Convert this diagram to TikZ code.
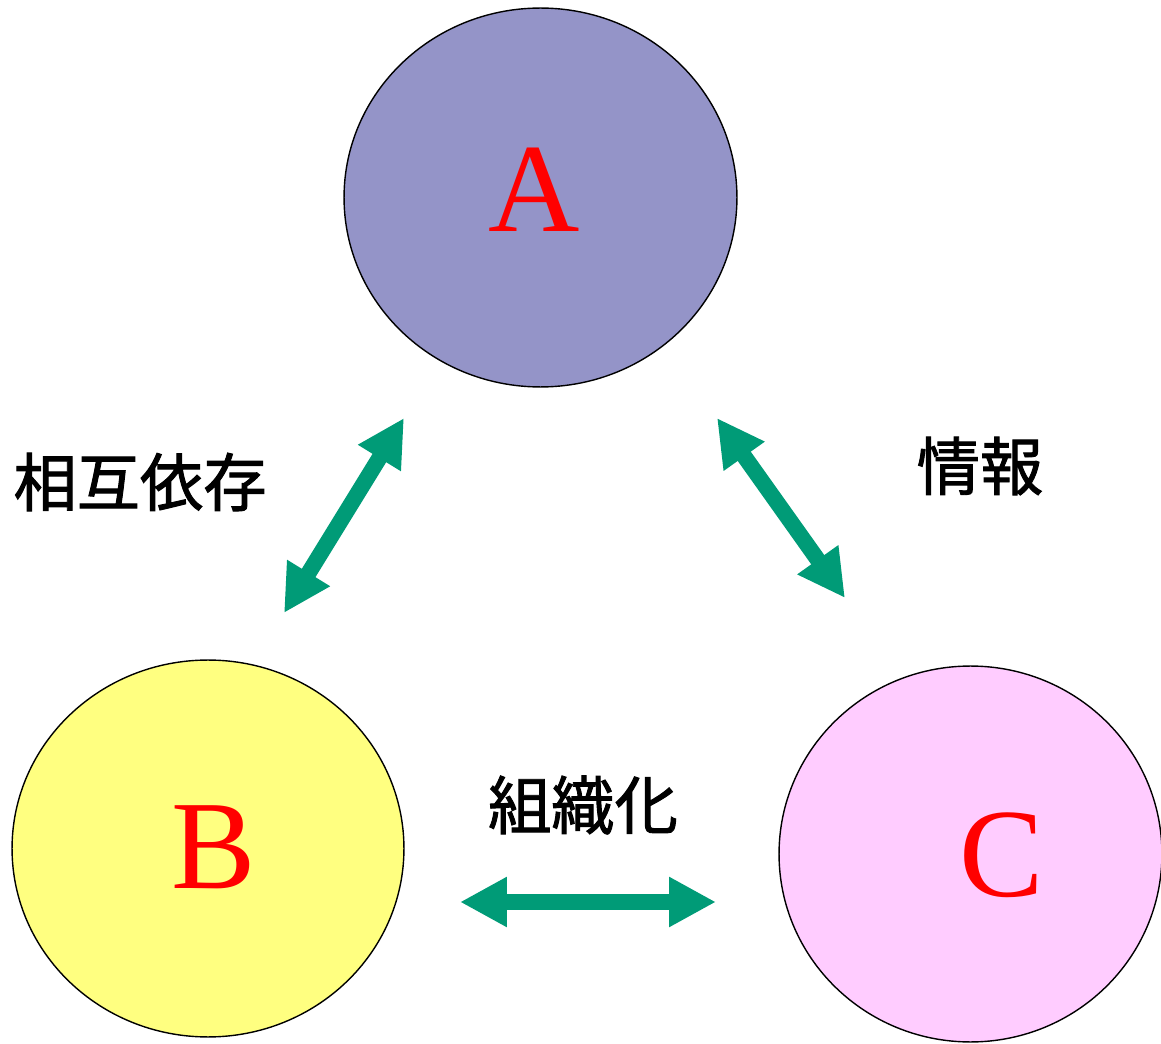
\documentclass[tikz,border=0pt]{standalone}
\usepackage{fontspec}
\setmainfont{Liberation Serif}
\newfontfamily\jpfont[FakeBold=1.5]{Noto Sans CJK JP}
\definecolor{ovblue}{RGB}{148,148,200}
\definecolor{ovyellow}{RGB}{255,255,128}
\definecolor{ovpink}{RGB}{255,204,255}
\definecolor{lkgreen}{RGB}{0,155,119}
\usetikzlibrary{arrows.meta,shapes.geometric}
\tikzset{
  bubble/.style={ellipse, draw=black, line width=0.8pt, inner sep=0pt},
  letter/.style={text=red, inner sep=0pt, font=\fontsize{72}{72}\selectfont},
  link/.style={draw=lkgreen, line width=0.32cm, {Triangle[length=0.94cm,width=0.94cm]}-{Triangle[length=0.94cm,width=0.94cm]}},
  tag/.style={font=\jpfont\fontsize{36}{36}\selectfont}
}

\begin{document}
\begin{tikzpicture}[x=0.02cm,y=-0.02cm]
  \useasboundingbox (0,0) rectangle (1161,1044);

  %% Circles
  \node[bubble, fill=ovblue, minimum width=7.86cm, minimum height=7.58cm] (a) at (540.5,197.5) {};
  \node[bubble, fill=ovyellow, minimum width=7.84cm, minimum height=7.54cm] (b) at (208,848.5) {};
  \node[bubble, fill=ovpink, minimum width=7.66cm, minimum height=7.52cm] (c) at (970.5,854) {};
  \node[letter] (a-txt) at (534,190) {A};
  \node[letter] (b-txt) at (214,847) {B};
  \node[letter] (c-txt) at (1002,855) {C};

  %% Arrow ends
  \coordinate (ab-top) at (404,418);
  \coordinate (ab-bot) at (284,613);
  \coordinate (ac-top) at (717,418);
  \coordinate (ac-bot) at (845,598);
  \coordinate (bc-left) at (460,902);
  \coordinate (bc-right) at (716,902);

  %% Arrows
  \draw[link] (ab-top) -- (ab-bot);
  \draw[link] (ac-top) -- (ac-bot);
  \draw[link] (bc-left) -- (bc-right);

  %% Labels
  \node[tag] (t-ab) at (140,482) {相互依存};
  \node[tag] (t-ac) at (980,466) {情報};
  \node[tag] (t-bc) at (583,805) {組織化};
\end{tikzpicture}
\end{document}
